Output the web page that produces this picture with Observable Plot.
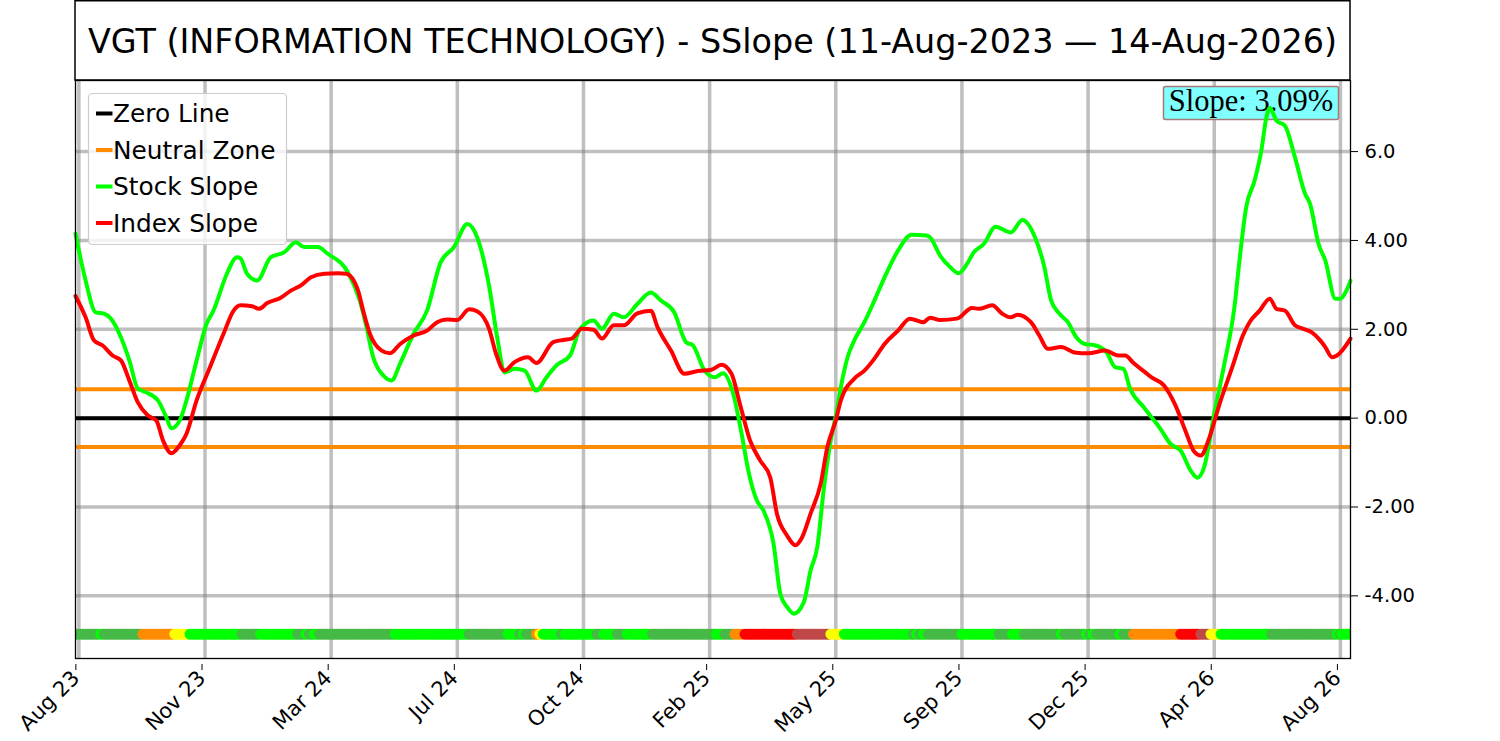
<!DOCTYPE html>
<html>
<head>
<meta charset="utf-8">
<script src="https://cdn.jsdelivr.net/npm/d3@7"></script>
<script src="https://cdn.jsdelivr.net/npm/@observablehq/plot@0.6"></script>
<style>
  html, body { margin: 0; padding: 0; background: #fff; }
  svg { display: block; }
</style>
</head>
<body>
<div id="chart"></div>
<script>
// ---- data (trading-day index from 11-Aug-2023) ----
const titleText = "VGT (INFORMATION TECHNOLOGY) - SSlope (11-Aug-2023 \u2014 14-Aug-2026)";
const lastDay = 758;
const currentSlope = "3.09";
const neutralBand = 0.65;

const stockDay = [0,6,12,17,21,27,32,37,42,49,54,57,62,66,72,78,82,90,96,98,
  102,108,116,124,131,136,144,150,162,169,173,177,183,188,193,201,209,217,225,233,
  239,246,251,255,261,267,274,280,286,294,300,308,313,320,326,334,342,348,356,363,
  367,374,380,385,391,396,400,405,409,415,419,423,427,433,437,441,445,449,452,455,
  459,463,469,475,481,489,497,506,508,514,520,525,530,534,540,547,556,563,570,576,
  580,585,590,595,600,606,613,618,623,627,635,645,651,657,663,667,671,677,683,689,
  692,696,701,705,708,710,714,719,725,731,734,739,743,749,752,755,758];
const stockSlope = [4.15,3.10,2.38,2.35,2.24,1.82,1.30,0.67,0.58,0.40,
  0.02,-0.23,-0.05,0.40,1.30,2.13,2.42,3.25,3.62,3.60,
  3.25,3.10,3.62,3.73,3.96,3.85,3.85,3.70,3.28,2.65,
  2.05,1.37,0.96,0.85,1.23,1.90,2.42,3.50,3.85,4.37,
  4.05,2.95,1.75,1.03,1.11,1.07,0.62,0.92,1.19,1.41,
  2.01,2.20,2.01,2.35,2.27,2.57,2.83,2.65,2.38,1.71,
  1.64,1.07,0.92,1.01,0.55,-0.35,-1.18,-1.85,-2.08,-2.83,
  -3.95,-4.25,-4.40,-4.14,-3.43,-2.90,-1.55,-0.50,0.05,0.70,
  1.37,1.75,2.16,2.65,3.17,3.77,4.13,4.11,4.07,3.66,
  3.40,3.26,3.47,3.73,3.92,4.31,4.18,4.46,4.11,3.40,
  2.65,2.35,2.16,1.82,1.67,1.64,1.48,1.15,1.11,0.66,
  0.25,-0.24,-0.58,-0.73,-1.18,-1.34,-1.10,0.10,1.22,2.50,
  3.55,4.75,5.35,6.02,6.77,6.98,6.70,6.58,5.87,5.05,
  4.82,3.92,3.55,2.69,2.69,2.83,3.09];

const indexDay = [0,6,11,16,22,27,32,37,43,48,52,57,62,66,72,80,88,94,98,105,
  109,114,122,128,134,140,148,156,161,168,171,175,182,187,193,201,209,215,221,227,
  234,239,246,250,255,261,269,274,284,290,295,301,308,313,320,326,334,342,346,354,
  362,370,378,384,390,395,401,407,413,417,423,428,432,437,443,447,452,455,463,469,
  475,481,489,496,504,508,514,524,533,537,545,551,556,560,568,573,578,586,594,602,
  612,620,624,629,636,640,647,654,660,665,669,674,680,688,694,698,704,710,714,719,
  725,730,735,740,743,747,750,758];
const indexSlope = [2.75,2.27,1.75,1.64,1.41,1.30,0.85,0.36,0.06,-0.05,
  -0.50,-0.79,-0.61,-0.35,0.40,1.15,1.90,2.42,2.54,2.52,
  2.46,2.59,2.71,2.87,2.99,3.17,3.25,3.26,3.25,2.87,
  2.42,1.90,1.52,1.46,1.67,1.86,1.97,2.16,2.22,2.21,
  2.45,2.40,2.00,1.45,1.07,1.26,1.37,1.24,1.71,1.76,
  1.79,2.01,1.99,1.79,2.09,2.09,2.36,2.42,2.05,1.52,
  1.00,1.06,1.09,1.20,1.00,0.32,-0.50,-0.95,-1.33,-2.15,
  -2.64,-2.86,-2.68,-2.15,-1.48,-0.65,-0.05,0.40,0.89,1.07,
  1.34,1.67,1.97,2.24,2.16,2.26,2.21,2.24,2.48,2.46,
  2.54,2.35,2.27,2.33,2.16,1.86,1.56,1.60,1.48,1.46,
  1.52,1.41,1.41,1.24,1.03,0.91,0.74,0.28,-0.30,-0.75,
  -0.84,-0.45,0.30,1.18,1.86,2.16,2.42,2.69,2.46,2.42,
  2.09,2.01,1.93,1.75,1.60,1.37,1.41,1.79];

// status strip: run starts (day index) and status codes
const statusStart = [0,15,17,40,59,68,99,110,132,137,139,142,145,190,234,257,264,266,268,274,
  276,278,289,291,310,314,322,328,343,381,386,392,398,429,449,457,498,500,502,504,
  507,527,549,557,564,586,588,601,603,605,607,621,623,629,657,669,675,681,711,750,752,753];
const statusCode = ["mg","lime","mg","orange","yellow","lime","mg","lime","mg","lime","mg","lime","mg","lime","mg","lime","mg","lime","mg","orange",
  "yellow","lime","mg","lime","mg","lime","mg","lime","mg","lime","mg","orange","red","brown","yellow","lime","mg","lime","mg","lime",
  "mg","lime","mg","lime","mg","lime","mg","lime","mg","lime","mg","lime","mg","orange","red","brown","yellow","lime","mg","lime","mg","lime"];
const statusColors = {lime:"#00ff00", mg:"#46b946", orange:"#ff8c00", yellow:"#ffff00", red:"#ff0000", brown:"#c04848"};
const statusLevel = -4.86;

const tickDays = [2,77,152,227,302,377,452,527,602,677,752];
const tickLabels = ["Aug 23","Nov 23","Mar 24","Jul 24","Oct 24","Feb 25","May 25","Sep 25","Dec 25","Apr 26","Aug 26"];
const yTicks = [6,4,2,0,-2,-4];
const yTickLabels = ["6.0","4.00","2.00","0.00","-2.00","-4.00"];

const legendItems = [
  {label:"Zero Line", color:"#000000"},
  {label:"Neutral Zone", color:"#ff8c00"},
  {label:"Stock Slope", color:"#00ff00"},
  {label:"Index Slope", color:"#ff0000"}
];

// ---- build tables ----
const stockData = stockDay.map((d, i) => ({day: d, v: stockSlope[i]}));
const indexData = indexDay.map((d, i) => ({day: d, v: indexSlope[i]}));
const statusData = d3.range(0, lastDay + 1).map(day => {
  let k = 0;
  for (let j = 0; j < statusStart.length; j++) if (statusStart[j] <= day) k = j;
  return {day, code: statusCode[k]};
});

const W = 1500, H = 741;
const mL = 75, mR = 150, mT = 80, mB = 83;
const gridStyle = {stroke: "#808080", strokeOpacity: 0.5, strokeWidth: 3.5};

const plot = Plot.plot({
  width: W, height: H,
  marginLeft: mL, marginRight: mR, marginTop: mT, marginBottom: mB,
  style: {fontFamily: "DejaVu Sans", color: "black", background: "white", overflow: "visible"},
  x: {domain: [0, lastDay]},
  y: {domain: [-5.41, 7.60]},
  marks: [
    Plot.gridX(tickDays, gridStyle),
    Plot.gridY(yTicks, gridStyle),
    Plot.ruleY([0], {stroke: "#000", strokeWidth: 4}),
    Plot.ruleY([neutralBand, -neutralBand], {stroke: "#ff8c00", strokeWidth: 4}),
    Plot.line(stockData, {x: "day", y: "v", stroke: "#00ff00", strokeWidth: 4, curve: "monotone-x"}),
    Plot.line(indexData, {x: "day", y: "v", stroke: "#ff0000", strokeWidth: 4, curve: "monotone-x"}),
    Plot.dot(statusData, {x: "day", y: () => statusLevel, r: 5.4, fill: d => statusColors[d.code], stroke: null, clip: true}),
    Plot.frame({stroke: "#000", strokeWidth: 1.3}),
    Plot.axisX(tickDays, {anchor: "bottom", label: null, tickSize: 6, tickPadding: 4, tickRotate: -45,
      fontSize: 21, dx: -3, dy: 6, tickFormat: d => tickLabels[tickDays.indexOf(d)]}),
    Plot.axisY(yTicks, {anchor: "right", label: null, tickSize: 7, tickPadding: 7,
      fontSize: 19.5, tickFormat: d => yTickLabels[yTicks.indexOf(d)]})
  ]
});

document.getElementById("chart").appendChild(plot);
const svg = d3.select(plot);

// slope box (placed beneath the slope lines)
const firstLine = plot.querySelector('[aria-label="line"]');
const sbNode = document.createElementNS("http://www.w3.org/2000/svg", "g");
if (firstLine) plot.insertBefore(sbNode, firstLine); else plot.appendChild(sbNode);
const sb = d3.select(sbNode);
sb.append("rect").attr("x", 1163.5).attr("y", 86.5).attr("width", 175).attr("height", 33).attr("rx", 2)
  .attr("fill", "#80ffff").attr("stroke", "#a87878").attr("stroke-width", 1.5);
sb.append("text").attr("x", 1251).attr("y", 110.5).attr("text-anchor", "middle")
  .attr("font-family", "Liberation Serif").attr("font-size", 30.5).attr("fill", "#000")
  .text("Slope: " + currentSlope + "%");

// title box
svg.append("rect").attr("x", mL).attr("y", 0.75).attr("width", W - mL - mR).attr("height", mT - 0.75)
  .attr("fill", "none").attr("stroke", "#000").attr("stroke-width", 1.5);
svg.append("text").attr("x", mL + (W - mL - mR) / 2).attr("y", 41)
  .attr("text-anchor", "middle").attr("dominant-baseline", "central")
  .attr("font-family", "DejaVu Sans").attr("font-size", 33.4).attr("fill", "#000")
  .text(titleText);

// legend
const lg = svg.append("g").attr("text-anchor", "start");
lg.append("rect").attr("x", 88.5).attr("y", 93.5).attr("width", 198).attr("height", 151).attr("rx", 4)
  .attr("fill", "#fff").attr("fill-opacity", 0.8).attr("stroke", "#cccccc").attr("stroke-width", 1.2);
legendItems.forEach((it, i) => {
  const cy = 113.5 + i * 36.5;
  lg.append("line").attr("x1", 96).attr("x2", 112.5).attr("y1", cy).attr("y2", cy)
    .attr("stroke", it.color).attr("stroke-width", 4);
  lg.append("text").attr("x", 113).attr("y", cy).attr("dominant-baseline", "central")
    .attr("text-anchor", "start")
    .attr("font-family", "DejaVu Sans").attr("font-size", 24.8).attr("fill", "#000").text(it.label);
});
</script>
</body>
</html>
